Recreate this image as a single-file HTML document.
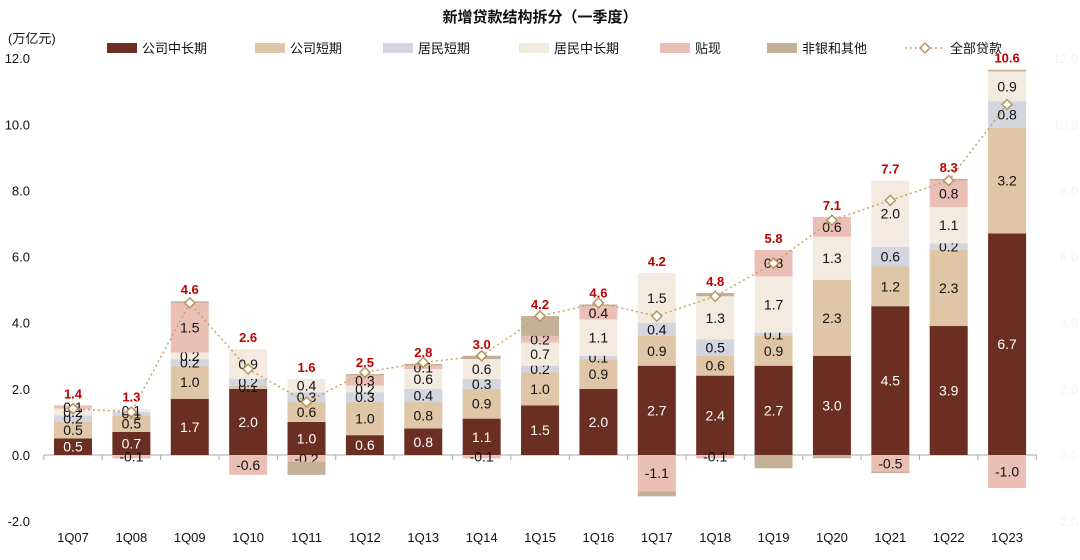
<!DOCTYPE html>
<html><head><meta charset="utf-8"><style>
body{margin:0;background:#fff;}
svg text{font-family:"Liberation Sans","Noto Sans CJK SC",sans-serif;}
</style></head><body>
<svg id="chart" width="1080" height="555" xmlns="http://www.w3.org/2000/svg">
<text x="540" y="22" text-anchor="middle" font-size="15" font-weight="bold" fill="#111">新增贷款结构拆分（一季度）</text>
<text x="8" y="43" font-size="13" fill="#111">(万亿元)</text>
<g id="legend"></g>
<g id="axes"></g>
<g id="bars"></g>
<g id="line"></g>
</svg>
<script>
const categories=["1Q07","1Q08","1Q09","1Q10","1Q11","1Q12","1Q13","1Q14","1Q15","1Q16","1Q17","1Q18","1Q19","1Q20","1Q21","1Q22","1Q23"];
const corpLong=[0.5,0.7,1.7,2.0,1.0,0.6,0.8,1.1,1.5,2.0,2.7,2.4,2.7,3.0,4.5,3.9,6.7];
const corpShort=[0.5,0.5,1.0,0.1,0.6,1.0,0.8,0.9,1.0,0.9,0.9,0.6,0.9,2.3,1.2,2.3,3.2];
const hhShort=[0.2,0.1,0.2,0.2,0.3,0.3,0.4,0.3,0.2,0.1,0.4,0.5,0.1,0.0,0.6,0.2,0.8];
const hhLong=[0.2,0.1,0.2,0.9,0.4,0.2,0.6,0.6,0.7,1.1,1.5,1.3,1.7,1.3,2.0,1.1,0.9];
const discount=[0.1,-0.1,1.5,-0.6,-0.2,0.3,0.1,-0.1,0.2,0.4,-1.1,-0.1,0.8,0.6,-0.5,0.8,-1.0];
const nonbank=[0.0,0.0,0.05,0.0,-0.4,0.05,0.05,0.1,0.6,0.05,-0.15,0.1,-0.4,-0.1,-0.05,0.05,0.05];
const totals=[1.4,1.3,4.6,2.6,1.6,2.5,2.8,3.0,4.2,4.6,4.2,4.8,5.8,7.1,7.7,8.3,10.6];
const yTicks=[-2,0,2,4,6,8,10,12];
const seriesNames=["公司中长期","公司短期","居民短期","居民中长期","贴现","非银和其他"];
const seriesData=[corpLong,corpShort,hhShort,hhLong,discount,nonbank];
const colors=["#6B2E22","#DEC6A6","#D3D5DF","#F4EBE0","#E9BFB6","#C2B196"];
const NS="http://www.w3.org/2000/svg";
function y(v){return 455-v*33.07;}
function x(i){return 73+i*58.38;}
const bw=38;
function mk(tag,attrs,parent,txt){const e=document.createElementNS(NS,tag);for(const k in attrs)e.setAttribute(k,attrs[k]);if(txt!==undefined)e.textContent=txt;parent.appendChild(e);return e;}
const axes=document.getElementById('axes');
yTicks.forEach(t=>{
  const l=mk('text',{x:30,y:y(t)+5,'text-anchor':'end','font-size':13,fill:'#111'},axes,t.toFixed(1));
  
  
  const r=mk('text',{x:1078,y:y(t)+5,'text-anchor':'end','font-size':13,fill:'#f4f4f4'},axes,t.toFixed(1));
  
  
});
const ax=mk('line',{x1:44,x2:1037,y1:y(0),y2:y(0),stroke:'#aaa','stroke-width':1},axes);


for(let i=0;i<=categories.length;i++){
  const tx=x(i)-29.2;
  mk('line',{x1:tx,x2:tx,y1:y(0),y2:y(0)+5,stroke:'#aaa'},axes);
}
categories.forEach((c,i)=>{
  const t=mk('text',{x:x(i),y:542,'text-anchor':'middle','font-size':13,fill:'#111'},axes,c);
  
  
});
const bars=document.getElementById('bars');
categories.forEach((c,i)=>{
  let pos=0,neg=0;
  seriesData.forEach((s,k)=>{
    const v=s[i]; if(v===0)return;
    let y0,y1;
    if(v>0){y0=pos;y1=pos+v;pos=y1;}else{y0=neg;y1=neg+v;neg=y1;}
    const top=y(Math.max(y0,y1)),h=Math.abs(y(y0)-y(y1));
    const r=mk('rect',{x:x(i)-bw/2,y:top,width:bw,height:h,fill:colors[k]},bars);
    
    
    if(Math.abs(v)>=0.1&&k<5){
      const t=mk('text',{x:x(i),y:top+h/2+5,'text-anchor':'middle','font-size':14,fill:k===0?'#fff':'#111'},bars,v.toFixed(1));
      
      
    }
  });
  const tl=mk('text',{x:x(i),y:y(pos)-7,'text-anchor':'middle','font-size':13,'font-weight':'bold',fill:'#C00000'},bars,totals[i].toFixed(1));
  
  
});
const lg=document.getElementById('line');
const pts=totals.map((v,i)=>x(i)+','+y(v)).join(' ');
const pl=mk('polyline',{points:pts,fill:'none',stroke:'#C8A36A','stroke-width':1.5,'stroke-dasharray':'2,3'},lg);


totals.forEach((v,i)=>{
  const d=mk('path',{d:`M${x(i)},${y(v)-5}l5,5l-5,5l-5,-5z`,fill:'#fff',stroke:'#B8955E','stroke-width':1.5},lg);
  
  
});
const leg=document.getElementById('legend');
const legX=[107,255,383,519,660,767];
seriesNames.forEach((n,k)=>{
  const r=mk('rect',{x:legX[k],y:43,width:30,height:10,fill:colors[k]},leg);
  
  
  const t=mk('text',{x:legX[k]+35,y:53,'font-size':13,fill:'#111'},leg,n);
  
  
});
mk('line',{x1:905,x2:945,y1:48,y2:48,stroke:'#C8A36A','stroke-width':1.5,'stroke-dasharray':'2,3'},leg);
mk('path',{d:'M925,43l5,5l-5,5l-5,-5z',fill:'#fff',stroke:'#B8955E','stroke-width':1.5},leg);
const lt=mk('text',{x:950,y:53,'font-size':13,fill:'#111'},leg,'全部贷款');


</script>
</body></html>
